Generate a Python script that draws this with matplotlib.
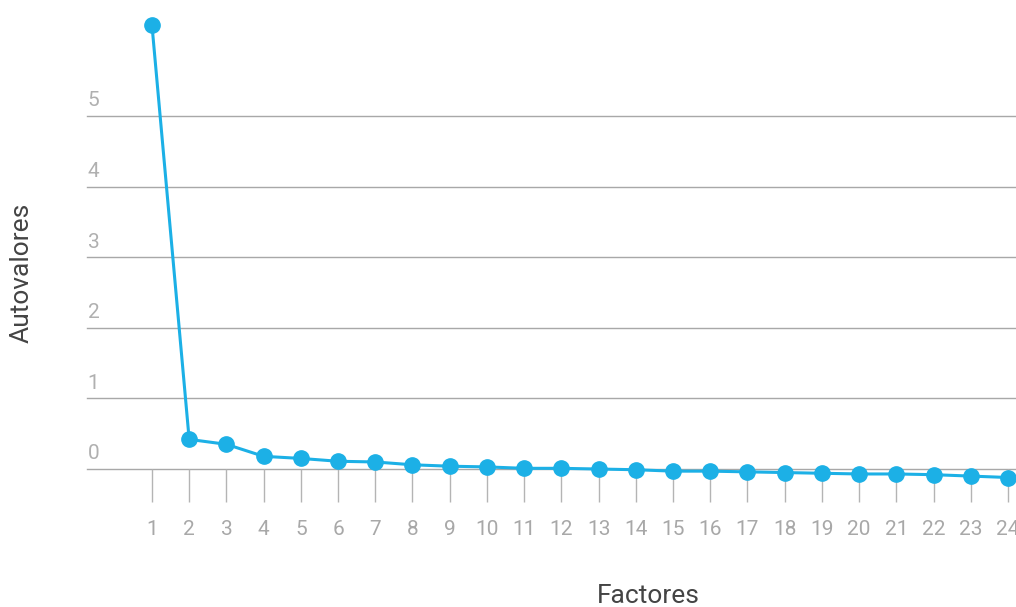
import matplotlib
matplotlib.use('Agg')
import matplotlib.pyplot as plt

factores = list(range(1, 25))
autovalores = [6.29, 0.42, 0.35, 0.18, 0.15, 0.11, 0.10, 0.06, 0.04, 0.03, 0.01, 0.01,
               0.00, -0.01, -0.03, -0.03, -0.04, -0.05, -0.06, -0.07, -0.07, -0.08, -0.10, -0.12]
yticks = [0, 1, 2, 3, 4, 5]

plt.rcParams['font.family'] = ['Roboto', 'DejaVu Sans']

fig = plt.figure(figsize=(10.16, 6.07), dpi=100)
ax = fig.add_axes([0.0856, 0.2273, 0.9144, 0.7328])

blue = '#1cb0e6'
ax.plot(factores, autovalores, color=blue, lw=2.2, marker='o', ms=11,
        clip_on=False, zorder=3)

ax.set_xlim(-0.746, 24.215)
ax.set_ylim(0, 6.3)

# lineas horizontales con su etiqueta encima
for v in yticks:
    ax.axhline(v, color='#a8a8a8', lw=1, zorder=1, clip_on=False)
    ax.annotate(str(v), (0, v), xycoords=ax.get_yaxis_transform(),
                xytext=(0.5, 4), textcoords='offset points', ha='left', va='bottom',
                fontsize=15, color='#b0b0b0')

ax.set_yticks([])
ax.set_xticks(factores)
ax.set_xticklabels([str(f) for f in factores], fontsize=15, color='#a8a8a8')
ax.tick_params(axis='x', direction='out', length=24, width=1, color='#b4b4b4', pad=13)

for s in ax.spines.values():
    s.set_visible(False)

fig.text(22 / 1016, 1 - 273 / 607, 'Autovalores', rotation=90, ha='center', va='center',
         fontsize=19, color='#444444')
fig.text(648 / 1016, 1 - 596 / 607, 'Factores', ha='center', va='center',
         fontsize=19, color='#444444')

fig.savefig('out.png', dpi=100)
